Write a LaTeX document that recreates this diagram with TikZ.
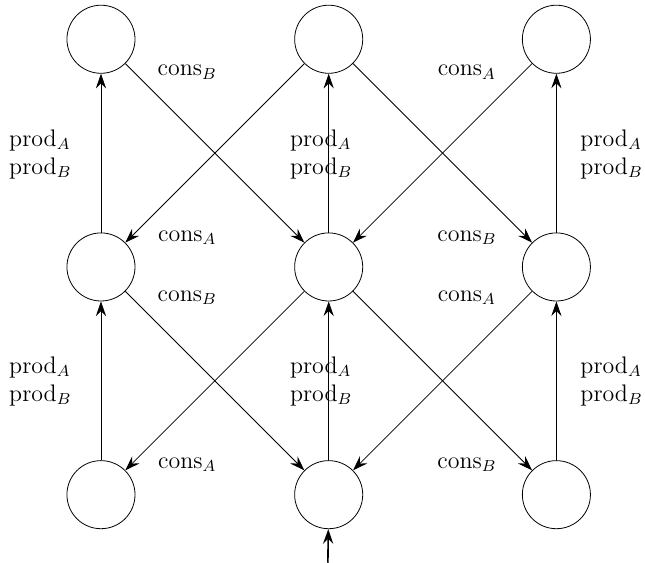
\documentclass[tikz,border=0pt]{standalone}
\usepackage{amsmath,amssymb}
\usepackage{tikz}
\usetikzlibrary{arrows.meta, positioning}

\begin{document}
\begin{tikzpicture}[
    font=\large,
    node distance=2.8cm,
    state/.style={
        draw,
        circle,
        minimum size=1.2cm
    },
    lbl/.style={
        align=left,
        inner sep=1pt
    },
    line/.style={draw, -{Stealth[length=2.6mm, width=1.8mm, inset=0.9mm]}}
]
\useasboundingbox (-1.78,-1.2) rectangle (9.59,8.72);

% bottom row
\node[state] (bl) at (0,0) {};
\node[state, right=of bl] (bc) {};
\node[state, right=of bc] (br) {};
% middle row
\node[state, above=of bl] (ml) {};
\node[state, above=of bc] (mc) {};
\node[state, above=of br] (mr) {};
% top row
\node[state, above=of ml] (tl) {};
\node[state, above=of mc] (tc) {};
\node[state, above=of mr] (tr) {};

\coordinate (start) at (4,-1.2);

% vertical moves
\draw[line] (bl) -- (ml);
\draw[line] (bc) -- (mc);
\draw[line] (br) -- (mr);
\draw[line] (ml) -- (tl);
\draw[line] (mc) -- (tc);
\draw[line] (mr) -- (tr);
\draw[line, thick] (start) -- (bc);

% diagonal moves
\draw[line] (tl) -- (mc);
\draw[line] (tc) -- (ml);
\draw[line] (tc) -- (mr);
\draw[line] (tr) -- (mc);
\draw[line] (ml) -- (bc);
\draw[line] (mc) -- (bl);
\draw[line] (mc) -- (br);
\draw[line] (mr) -- (bc);

% labels
\node[lbl] (p1) at (-1.07,6) {prod$_A$\\prod$_B$};
\node[lbl] (p2) at (3.88,6) {prod$_A$\\prod$_B$};
\node[lbl] (p3) at (9.0,6) {prod$_A$\\prod$_B$};
\node[lbl] (p4) at (-1.07,2) {prod$_A$\\prod$_B$};
\node[lbl] (p5) at (3.88,2) {prod$_A$\\prod$_B$};
\node[lbl] (p6) at (9.0,2) {prod$_A$\\prod$_B$};

\node (c1) at (1.52,7.45) {cons$_B$};
\node (c2) at (6.45,7.45) {cons$_A$};
\node (c3) at (1.52,4.53) {cons$_A$};
\node (c4) at (6.45,4.53) {cons$_B$};
\node (c5) at (1.52,3.47) {cons$_B$};
\node (c6) at (6.45,3.47) {cons$_A$};
\node (c7) at (1.52,0.53) {cons$_A$};
\node (c8) at (6.45,0.53) {cons$_B$};

\end{tikzpicture}
\end{document}
